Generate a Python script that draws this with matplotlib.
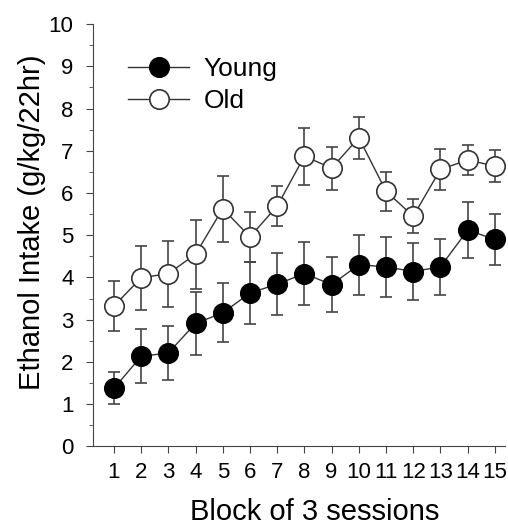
import numpy as np
import matplotlib.pyplot as plt

plt.rcParams["font.family"] = ["Liberation Sans", "DejaVu Sans"]

#  data
blocks = np.arange(1, 16)
young_mean = [1.37, 2.13, 2.21, 2.91, 3.16, 3.63, 3.84, 4.09, 3.83, 4.30, 4.25, 4.14, 4.25, 5.12, 4.90]
young_err = [0.38, 0.64, 0.64, 0.75, 0.70, 0.73, 0.73, 0.74, 0.65, 0.71, 0.71, 0.68, 0.66, 0.67, 0.60]
old_mean = [3.32, 3.99, 4.09, 4.55, 5.63, 4.96, 5.69, 6.87, 6.59, 7.31, 6.04, 5.45, 6.56, 6.78, 6.64]
old_err = [0.59, 0.76, 0.78, 0.82, 0.78, 0.60, 0.48, 0.67, 0.51, 0.50, 0.46, 0.40, 0.48, 0.36, 0.37]

fig = plt.figure(figsize=(5.08, 5.25), dpi=100)
ax = fig.add_axes([0.183, 0.150, 0.811, 0.804])

err_style = dict(ecolor="#444444", elinewidth=1.2, capsize=4, capthick=1.2)
ax.errorbar(blocks, old_mean, yerr=old_err, fmt="-o", color="#333333", lw=1,
            mfc="white", mec="#333333", mew=1.2, ms=14, label="Old", zorder=2, **err_style)
ax.errorbar(blocks, young_mean, yerr=young_err, fmt="-o", color="#333333", lw=1,
            mfc="black", mec="black", mew=1.2, ms=14, label="Young", zorder=3, **err_style)

#  axes settings
ax.set_xlim(0.23, 15.37)
ax.set_ylim(0, 10)
ax.set_xticks(blocks)
ax.set_yticks(np.arange(0, 11, 1))
ax.set_yticks(np.arange(0.5, 10, 1), minor=True)
ax.tick_params(axis="both", which="major", direction="out", length=5, labelsize=16, color="#444444")
ax.tick_params(axis="x", which="major", pad=6)
ax.tick_params(axis="y", which="major", pad=9)
ax.tick_params(axis="y", which="minor", direction="out", length=3, color="#444444")
ax.spines["top"].set_visible(False)
ax.spines["right"].set_visible(False)
ax.spines["left"].set_color("#444444")
ax.spines["bottom"].set_color("#444444")
ax.set_xlabel("Block of 3 sessions", fontsize=21)
ax.set_ylabel("Ethanol Intake (g/kg/22hr)", fontsize=21)
ax.xaxis.set_label_coords(0.539, -0.123)
ax.yaxis.set_label_coords(-0.113, 0.53)

#  legend: Young first
handles, labels = ax.get_legend_handles_labels()
handles = [h[0] for h in handles]
ax.legend(handles[::-1], labels[::-1], loc="upper left", bbox_to_anchor=(0.06, 0.946),
          borderaxespad=0, frameon=False, fontsize=19, handlelength=2.3,
          handletextpad=0.55, labelspacing=0.3)

fig.savefig("out.png", dpi=100)
